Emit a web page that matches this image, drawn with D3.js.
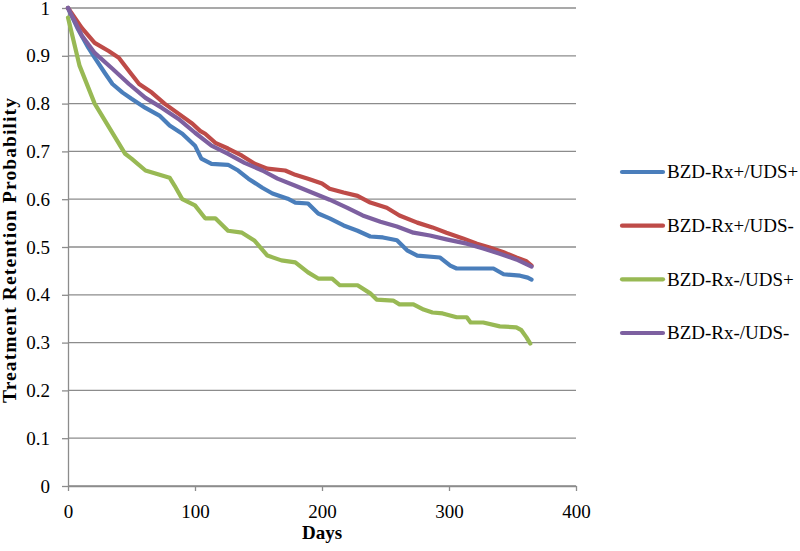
<!DOCTYPE html>
<html>
<head>
<meta charset="utf-8">
<script src="https://cdn.jsdelivr.net/npm/d3@7"></script>
<style>
  html, body { margin: 0; padding: 0; background: #ffffff; }
  svg { display: block; font-family: "Liberation Serif", serif; }
</style>
</head>
<body>
<svg id="chart" width="800" height="551"></svg>
<script>
// Tick labels
const xTicks = [0, 100, 200, 300, 400];
const yTicks = [0, 0.1, 0.2, 0.3, 0.4, 0.5, 0.6, 0.7, 0.8, 0.9, 1];

// Series names (legend order)
const seriesNames = ["BZD-Rx+/UDS+", "BZD-Rx+/UDS-", "BZD-Rx-/UDS+", "BZD-Rx-/UDS-"];

// [day, retention probability]
const rxPosUdsPos = [
  [0, 1.0], [8, 0.955], [16, 0.917], [21, 0.896], [29, 0.864], [35, 0.841],
  [43, 0.823], [50, 0.81], [61, 0.791], [72, 0.775], [80, 0.754], [90, 0.737],
  [100, 0.712], [105, 0.685], [113, 0.674], [126, 0.672], [134, 0.66],
  [142, 0.643], [153, 0.624], [161, 0.612], [173, 0.601], [179, 0.593],
  [189, 0.591], [197, 0.57], [206, 0.56], [217, 0.545], [228, 0.534],
  [238, 0.522], [248, 0.52], [259, 0.514], [267, 0.493], [275, 0.482],
  [293, 0.478], [301, 0.461], [306, 0.455], [335, 0.455], [343, 0.443],
  [356, 0.44], [362, 0.436], [365, 0.432]
];
const rxPosUdsNeg = [
  [0, 1.0], [11, 0.958], [21, 0.927], [32, 0.91], [40, 0.896], [48, 0.868],
  [56, 0.841], [66, 0.823], [76, 0.8], [87, 0.779], [98, 0.758], [104, 0.743],
  [108, 0.737], [116, 0.718], [126, 0.706], [137, 0.691], [147, 0.674],
  [157, 0.664], [171, 0.66], [179, 0.651], [189, 0.643], [200, 0.633],
  [206, 0.622], [217, 0.614], [228, 0.607], [238, 0.593], [251, 0.582],
  [261, 0.566], [275, 0.551], [287, 0.541], [298, 0.53], [311, 0.518],
  [322, 0.507], [332, 0.499], [343, 0.489], [353, 0.478], [361, 0.47],
  [365, 0.461]
];
const rxNegUdsPos = [
  [0, 0.98], [9, 0.88], [21, 0.8], [29, 0.765], [37, 0.73], [45, 0.695],
  [50, 0.685], [61, 0.66], [80, 0.645], [84, 0.628], [90, 0.6], [100, 0.587],
  [108, 0.56], [116, 0.56], [126, 0.534], [137, 0.53], [147, 0.513],
  [157, 0.482], [168, 0.472], [179, 0.468], [189, 0.447], [197, 0.434],
  [208, 0.434], [214, 0.42], [228, 0.42], [238, 0.403], [243, 0.39],
  [256, 0.388], [261, 0.38], [272, 0.38], [280, 0.369], [287, 0.363],
  [295, 0.361], [306, 0.353], [314, 0.353], [317, 0.342], [327, 0.342],
  [340, 0.334], [353, 0.332], [357, 0.326], [361, 0.311], [364, 0.298]
];
const rxNegUdsNeg = [
  [0, 1.0], [11, 0.942], [21, 0.906], [35, 0.873], [48, 0.841], [61, 0.812],
  [74, 0.791], [87, 0.768], [100, 0.739], [113, 0.712], [126, 0.695],
  [139, 0.676], [153, 0.66], [165, 0.643], [179, 0.628], [192, 0.614],
  [206, 0.599], [220, 0.582], [232, 0.566], [246, 0.553], [259, 0.543],
  [272, 0.53], [285, 0.524], [298, 0.516], [314, 0.507], [327, 0.497],
  [340, 0.486], [353, 0.474], [365, 0.459]
];

const seriesColors = ["#4A7EBB", "#BE4B48", "#98B954", "#7D60A0"];
const seriesData = [rxPosUdsPos, rxPosUdsNeg, rxNegUdsPos, rxNegUdsNeg];

const GRID_COLOR = "#8C8C8C";
const TEXT_COLOR = "#000000";
const FONT_SIZE = 19;

const margins = { top: 8, right: 224, bottom: 65, left: 68 };
const svg = d3.select("#chart");
const width = +svg.attr("width") - margins.left - margins.right;
const height = +svg.attr("height") - margins.top - margins.bottom;

const graph = svg.append("g")
  .attr("transform", `translate(${margins.left}, ${margins.top})`);

// Scales
const x = d3.scaleLinear().domain([0, 400]).range([0, width]);
const y = d3.scaleLinear().domain([0, 1]).range([height, 0]);

// Horizontal gridlines
graph.append("g")
  .selectAll("line")
  .data(yTicks)
  .join("line")
  .attr("x1", 0)
  .attr("x2", width)
  .attr("y1", (d) => y(d))
  .attr("y2", (d) => y(d))
  .attr("stroke", GRID_COLOR)
  .attr("stroke-width", 1.3);

// Y axis
const axisY = d3.axisLeft(y)
  .tickValues(yTicks)
  .tickFormat(d3.format("~g"))
  .tickSize(6)
  .tickSizeOuter(0)
  .tickPadding(12);
const yAxisGroup = graph.append("g").call(axisY);
yAxisGroup.select(".domain").attr("stroke", GRID_COLOR).attr("stroke-width", 1.3);
yAxisGroup.selectAll(".tick line").attr("stroke", GRID_COLOR).attr("stroke-width", 1.3);
yAxisGroup.selectAll("text")
  .style("font-family", "Liberation Serif")
  .style("font-size", `${FONT_SIZE}px`)
  .attr("fill", TEXT_COLOR);

// X axis
const axisX = d3.axisBottom(x)
  .tickValues(xTicks)
  .tickSize(5)
  .tickSizeOuter(0)
  .tickPadding(14);
const xAxisGroup = graph.append("g")
  .attr("transform", `translate(0, ${height})`)
  .call(axisX);
xAxisGroup.select(".domain").attr("stroke", GRID_COLOR).attr("stroke-width", 1.3);
xAxisGroup.selectAll(".tick line").attr("stroke", GRID_COLOR).attr("stroke-width", 1.3);
xAxisGroup.selectAll("text")
  .style("font-family", "Liberation Serif")
  .style("font-size", `${FONT_SIZE}px`)
  .attr("fill", TEXT_COLOR);

// Axis titles
svg.append("text")
  .text("Days")
  .attr("x", margins.left + width / 2)
  .attr("y", 539)
  .attr("text-anchor", "middle")
  .attr("font-size", FONT_SIZE)
  .attr("font-weight", "bold")
  .attr("fill", TEXT_COLOR);

svg.append("text")
  .text("Treatment Retention Probability")
  .attr("transform", `translate(16, ${margins.top + height / 2 + 3}) rotate(-90)`)
  .attr("text-anchor", "middle")
  .attr("font-size", FONT_SIZE + 0.5)
  .attr("font-weight", "bold")
  .attr("letter-spacing", 1.1)
  .attr("fill", TEXT_COLOR);

// Survival curves
const line = d3.line()
  .x((d) => x(d[0]))
  .y((d) => y(d[1]));

graph.append("g")
  .selectAll("path")
  .data(seriesData)
  .join("path")
  .attr("d", line)
  .attr("fill", "none")
  .attr("stroke", (d, i) => seriesColors[i])
  .attr("stroke-width", 4.2)
  .attr("stroke-linejoin", "round")
  .attr("stroke-linecap", "round");

// Legend
const legendY = d3.scalePoint().domain(seriesNames).range([172, 333]);
const legend = svg.append("g")
  .selectAll("g")
  .data(seriesNames)
  .join("g")
  .attr("transform", (d) => `translate(622, ${legendY(d)})`);
legend.append("line")
  .attr("x1", 0)
  .attr("x2", 41)
  .attr("stroke", (d, i) => seriesColors[i])
  .attr("stroke-width", 4.2)
  .attr("stroke-linecap", "round");
legend.append("text")
  .text((d) => d)
  .attr("x", 45)
  .attr("dy", "0.34em")
  .attr("font-size", FONT_SIZE)
  .attr("fill", TEXT_COLOR);
</script>
</body>
</html>
